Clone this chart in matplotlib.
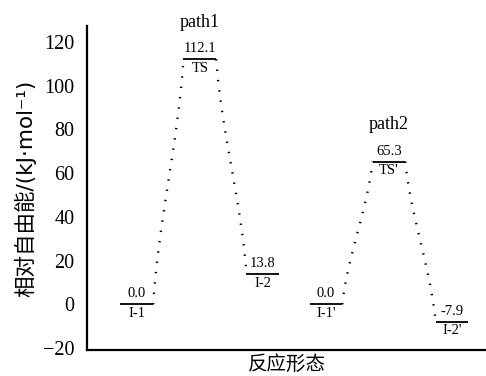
import numpy as np
import matplotlib.pyplot as plt

plt.rcParams['font.family'] = ['Liberation Serif', 'Noto Sans CJK SC']

values = [0.0, 112.1, 13.8, 0.0, 65.3, -7.9]
names = ["I-1", "TS", "I-2", "I-1'", "TS'", "I-2'"]
paths = ["path1", "path2"]
yticks = [-20, 0, 20, 40, 60, 80, 100, 120]

fig = plt.figure(figsize=(4.86, 3.76), dpi=100)
ax = fig.add_axes([0.179, 0.069, 0.821, 0.862])

w = 0.26
xs = np.arange(len(values))
for i, (x, v, n) in enumerate(zip(xs, values, names)):
    ax.plot([x - w, x + w], [v, v], color='black', lw=1.3, solid_capstyle='butt')
    ax.text(x, v + 1.8, f"{v:.1f}", ha='center', va='bottom', fontsize=10.5)
    ax.text(x, v - 1.2, n, ha='center', va='top', fontsize=10.5)

# dotted connectors between neighbouring states of each path
t = np.linspace(0, 1, 60)
s = 0.5 * t + 0.5 * (3 * t**2 - 2 * t**3)
for p in range(2):
    for k in range(2):
        i = 3 * p + k
        x0, x1 = xs[i] + w, xs[i + 1] - w
        y0, y1 = values[i], values[i + 1]
        ax.plot(x0 + (x1 - x0) * s, y0 + (y1 - y0) * t, color='black',
                lw=1.7, linestyle=(0, (0.6, 3.8)))

for p, name in enumerate(paths):
    x = xs[3 * p + 1]
    ax.text(x, values[3 * p + 1] + 13, name, ha='center', va='bottom', fontsize=13)

ax.set_xlim(-0.79, 5.54)
ax.set_ylim(-20.9, 127.3)
ax.set_yticks(yticks)
ax.set_yticklabels([str(v) if v >= 0 else "\u221220" for v in yticks], fontsize=14.5)
ax.set_xticks([])
ax.tick_params(axis='y', length=0, pad=9)
for side in ['top', 'right']:
    ax.spines[side].set_visible(False)
ax.spines['left'].set_linewidth(1.6)
ax.spines['bottom'].set_linewidth(1.6)
ax.set_xlabel("反应形态", fontsize=14, family=['Noto Sans CJK SC'], labelpad=3)
ax.set_ylabel("相对自由能/(kJ\u00b7mol\u207b\u00b9)", fontsize=15.5,
              family=['DejaVu Sans', 'Noto Sans CJK SC'], labelpad=5)

fig.savefig("out.png", dpi=100)
